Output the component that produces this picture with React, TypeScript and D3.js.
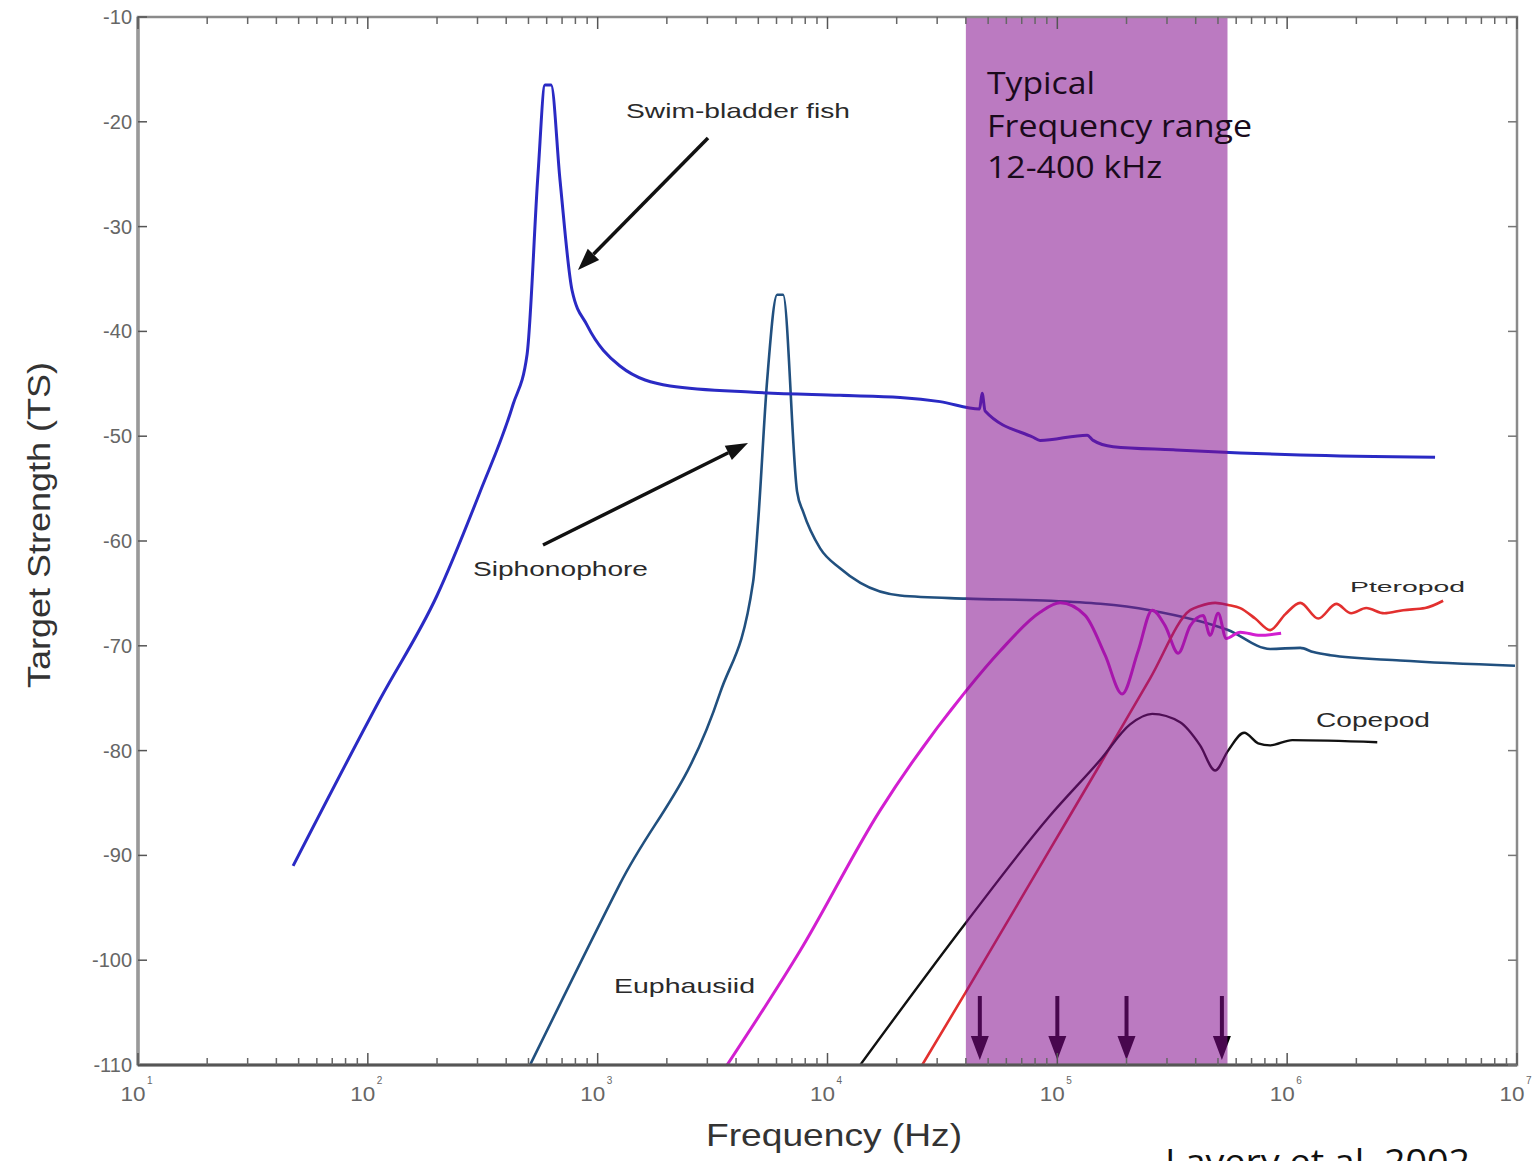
import React from "react";
import * as d3 from "d3";

// ---------- data (frequency in Hz, target strength in dB) ----------
const swimFreq = [47.3, 113, 200, 308, 428, 493, 550, 590, 627, 686, 774, 899, 1250, 2067, 4746, 11340, 20700, 30900, 45900, 47070, 48500, 78470, 84100, 134800, 143200, 174900, 319100, 624500, 1140000, 4400000];
const swimTS = [-91.0, -75.1, -65.2, -55.3, -47.0, -42.2, -25.0, -16.5, -16.5, -25.6, -36.1, -39.4, -43.3, -45.2, -45.8, -46.1, -46.3, -46.7, -47.4, -45.9, -47.6, -50.1, -50.4, -49.9, -50.4, -51.0, -51.3, -51.6, -51.8, -52.0];

const siphFreq = [508, 1252, 3409, 4746, 4989, 5461, 6037, 6409, 7375, 7831, 9290, 11340, 13900, 20700, 40100, 93100, 253000, 553000, 843000, 1140000, 1300000, 1540000, 3100000, 9800000];
const siphTS = [-110, -92.7, -74.5, -63.9, -58.2, -44.7, -36.5, -36.5, -55.3, -57.2, -60.7, -62.6, -64.0, -65.2, -65.5, -65.7, -66.6, -68.5, -70.3, -70.2, -70.6, -70.9, -71.4, -71.9];

const euphFreq = [3656, 7600, 16940, 40090, 56360, 84140, 102800, 132100, 161400, 191400, 224700, 258700, 294600, 335700, 378500, 430700, 462000, 500900, 543000, 625000, 762000, 941000];
const euphTS = [-110, -99.1, -85.7, -74.3, -70.5, -66.8, -65.9, -67.1, -70.9, -74.6, -70.5, -66.6, -68.1, -70.7, -68.1, -67.1, -69.0, -66.9, -69.3, -68.7, -69.0, -68.8];

const pteroFreq = [25820, 40090, 93030, 153600, 253400, 378500, 418000, 486100, 553600, 625000, 726000, 843000, 980000, 1140000, 1366000, 1635000, 1900000, 2208000, 2644000, 3197000, 3985000, 4771000];
const pteroTS = [-110, -103.0, -89.4, -81.3, -73.1, -66.6, -66.2, -65.9, -66.1, -66.4, -67.4, -68.5, -67.0, -65.9, -67.4, -66.0, -66.9, -66.4, -66.9, -66.6, -66.4, -65.7];

const copeFreq = [13870, 40090, 93030, 153600, 207300, 258700, 342200, 418000, 486100, 553600, 650000, 748000, 843000, 1052000, 2466000];
const copeTS = [-110, -96.4, -86.2, -80.9, -77.5, -76.5, -77.3, -79.5, -81.9, -80.0, -78.3, -79.3, -79.5, -79.0, -79.2];

const bandRange = [40000, 550000];
const markerFreqs = [46000, 100000, 200000, 520000];

const yTicks = [-10, -20, -30, -40, -50, -60, -70, -80, -90, -100, -110];
const xDecades = [1, 2, 3, 4, 5, 6, 7];

// ---------- layout ----------
const W = 1538;
const H = 1161;
const L = 138, R = 1517, T = 17, B = 1065;

const x = d3.scaleLog().domain([10, 1e7]).range([L, R]);
const y = d3.scaleLinear().domain([-110, -10]).range([B, T]);

function pathFor(fr: number[], ts: number[]) {
  const pts: [number, number][] = fr.map((f, i) => [x(f), y(ts[i])]);
  return d3.line().curve(d3.curveMonotoneX)(pts) || "";
}

const minorTicks: number[] = [];
for (let e = 1; e < 7; e++) for (let m = 2; m <= 9; m++) minorTicks.push(m * Math.pow(10, e));

const axisFont = "Liberation Sans, Arial, sans-serif";
const bandFont = "Open Sans, Lato, sans-serif";

function Arrow({ x1, y1, x2, y2, color, w = 3, hl = 22, hw = 8 }: any) {
  const ang = Math.atan2(y2 - y1, x2 - x1);
  const bx = x2 - hl * Math.cos(ang), by = y2 - hl * Math.sin(ang);
  const px = -Math.sin(ang) * hw, py = Math.cos(ang) * hw;
  return (
    <g>
      <line x1={x1} y1={y1} x2={bx} y2={by} stroke={color} strokeWidth={w} />
      <polygon points={`${x2},${y2} ${bx + px},${by + py} ${bx - px},${by - py}`} fill={color} />
    </g>
  );
}

export default function App() {
  return (
    <svg width={W} height={H} style={{ position: "absolute", left: 0, top: 0, background: "#fff" }} fontFamily={axisFont}>
      <defs>
        <clipPath id="plot">
          <rect x={L} y={T} width={R - L} height={B - T} />
        </clipPath>
      </defs>
      <rect x={0} y={0} width={W} height={H} fill="#fff" />

      {/* curves */}
      <g clipPath="url(#plot)" fill="none" strokeLinejoin="round">
        <path d={pathFor(siphFreq, siphTS)} stroke="#21507f" strokeWidth={2.6} />
        <path d={pathFor(swimFreq, swimTS)} stroke="#2a2ac4" strokeWidth={3} />
        <path d={pathFor(euphFreq, euphTS)} stroke="#d21fd0" strokeWidth={3} />
        <path d={pathFor(pteroFreq, pteroTS)} stroke="#e2302f" strokeWidth={2.6} />
        <path d={pathFor(copeFreq, copeTS)} stroke="#111" strokeWidth={2.4} />
      </g>

      {/* frequency marker arrows */}
      {markerFreqs.map((f) => (
        <Arrow key={f} x1={x(f)} y1={996} x2={x(f)} y2={1060} color="#000" w={4} hl={24} hw={9} />
      ))}

      {/* typical frequency band */}
      <rect x={x(bandRange[0])} y={T} width={x(bandRange[1]) - x(bandRange[0])} height={B - T} fill="rgb(132,12,142)" opacity={0.55} />

      {/* frame */}
      <rect x={L} y={T} width={R - L} height={B - T} fill="none" stroke="#8a8a8a" strokeWidth={2.5} />
      <line x1={L} y1={B} x2={R} y2={B} stroke="#555" strokeWidth={3} />
      <line x1={L} y1={T} x2={L} y2={B} stroke="#999" strokeWidth={3.5} />

      {/* x ticks */}
      {xDecades.map((e) => {
        const px = x(Math.pow(10, e));
        return (
          <g key={"xd" + e}>
            <line x1={px} y1={B} x2={px} y2={B - 12} stroke="#555" strokeWidth={1.5} />
            <line x1={px} y1={T} x2={px} y2={T + 12} stroke="#555" strokeWidth={1.5} />
            <text x={px - 5} y={B + 36} fontSize={20} fill="#666" textAnchor="middle" textLength={25} lengthAdjust="spacingAndGlyphs">10</text>
            <text x={px + 9} y={B + 19} fontSize={10} fill="#666">{e}</text>
          </g>
        );
      })}
      {minorTicks.map((f) => (
        <g key={"xm" + f}>
          <line x1={x(f)} y1={B} x2={x(f)} y2={B - 7} stroke="#666" strokeWidth={1.5} />
          <line x1={x(f)} y1={T} x2={x(f)} y2={T + 7} stroke="#666" strokeWidth={1.5} />
        </g>
      ))}

      {/* y ticks */}
      {yTicks.map((v) => (
        <g key={"y" + v}>
          <line x1={L} y1={y(v)} x2={L + 9} y2={y(v)} stroke="#555" strokeWidth={1.5} />
          <line x1={R} y1={y(v)} x2={R - 9} y2={y(v)} stroke="#777" strokeWidth={1.5} />
          <text x={L - 6} y={y(v) + 7} fontSize={20} fill="#666" textAnchor="end">{v}</text>
        </g>
      ))}

      {/* axis titles */}
      <text x={706} y={1146} fontSize={32} fill="#333" textLength={256} lengthAdjust="spacingAndGlyphs">Frequency (Hz)</text>
      <text transform="translate(50,688) rotate(-90)" fontSize={32} fill="#333" textLength={326} lengthAdjust="spacingAndGlyphs">Target Strength (TS)</text>

      {/* band label */}
      <g fontFamily={bandFont} fontSize={31} fill="#1a0a1c">
        <text x={987} y={94} textLength={108} lengthAdjust="spacingAndGlyphs">Typical</text>
        <text x={987} y={137} textLength={265} lengthAdjust="spacingAndGlyphs">Frequency range</text>
        <text x={987} y={178} textLength={175} lengthAdjust="spacingAndGlyphs">12-400 kHz</text>
      </g>

      {/* curve labels */}
      <g fill="#2a2a2a" fontFamily={axisFont}>
        <text x={626} y={118} fontSize={21} textLength={224} lengthAdjust="spacingAndGlyphs">Swim-bladder fish</text>
        <text x={473} y={576} fontSize={21} textLength={175} lengthAdjust="spacingAndGlyphs">Siphonophore</text>
        <text x={614} y={993} fontSize={21} textLength={141} lengthAdjust="spacingAndGlyphs">Euphausiid</text>
        <text x={1350} y={592} fontSize={15} textLength={115} lengthAdjust="spacingAndGlyphs">Pteropod</text>
        <text x={1316} y={727} fontSize={21} textLength={114} lengthAdjust="spacingAndGlyphs">Copepod</text>
      </g>

      <Arrow x1={708} y1={138} x2={578} y2={270} color="#111" w={3.5} />
      <Arrow x1={543} y1={545} x2={748} y2={443} color="#111" w={3.5} />

      <text x={1165} y={1174} fontSize={34} fill="#111" fontFamily={bandFont} textLength={305} lengthAdjust="spacingAndGlyphs">Lavery et al. 2002</text>
    </svg>
  );
}
